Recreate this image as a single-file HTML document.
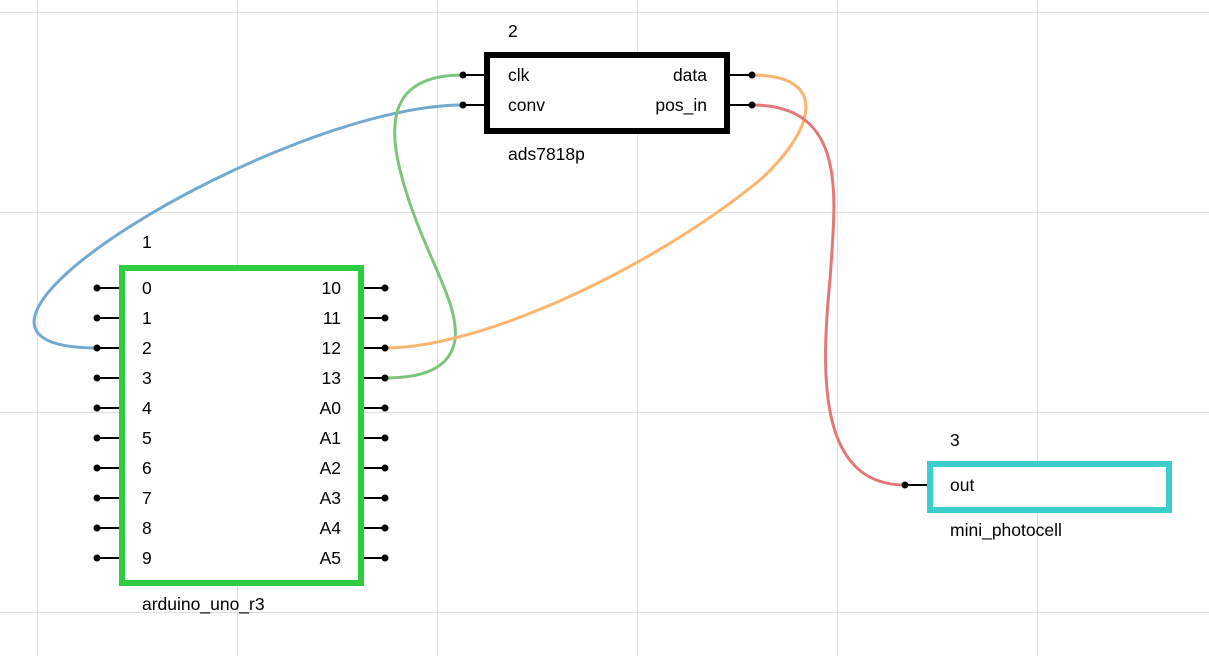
<!DOCTYPE html>
<html><head><meta charset="utf-8"><style>
html,body{margin:0;padding:0;background:#fff;}
svg{display:block;}
text{font-family:"Liberation Sans",Arial,sans-serif;font-size:17.5px;fill:#000;}
</style></head><body>
<svg width="1209" height="656" viewBox="0 0 1209 656" xmlns="http://www.w3.org/2000/svg">
<g stroke="#dedede" stroke-width="1">
<line x1="37.5" y1="0" x2="37.5" y2="656"/><line x1="237.5" y1="0" x2="237.5" y2="656"/>
<line x1="437.5" y1="0" x2="437.5" y2="656"/><line x1="637.5" y1="0" x2="637.5" y2="656"/>
<line x1="837.5" y1="0" x2="837.5" y2="656"/><line x1="1037.5" y1="0" x2="1037.5" y2="656"/>
<line x1="0" y1="12.5" x2="1209" y2="12.5"/><line x1="0" y1="212.5" x2="1209" y2="212.5"/>
<line x1="0" y1="412.5" x2="1209" y2="412.5"/><line x1="0" y1="612.5" x2="1209" y2="612.5"/>
</g>
<g stroke="#000" stroke-width="2">
<line x1="97" y1="288" x2="122" y2="288"/><line x1="97" y1="318" x2="122" y2="318"/>
<line x1="97" y1="348" x2="122" y2="348"/><line x1="97" y1="378" x2="122" y2="378"/>
<line x1="97" y1="408" x2="122" y2="408"/><line x1="97" y1="438" x2="122" y2="438"/>
<line x1="97" y1="468" x2="122" y2="468"/><line x1="97" y1="498" x2="122" y2="498"/>
<line x1="97" y1="528" x2="122" y2="528"/><line x1="97" y1="558" x2="122" y2="558"/>
<line x1="361" y1="288" x2="385" y2="288"/><line x1="361" y1="318" x2="385" y2="318"/>
<line x1="361" y1="348" x2="385" y2="348"/><line x1="361" y1="378" x2="385" y2="378"/>
<line x1="361" y1="408" x2="385" y2="408"/><line x1="361" y1="438" x2="385" y2="438"/>
<line x1="361" y1="468" x2="385" y2="468"/><line x1="361" y1="498" x2="385" y2="498"/>
<line x1="361" y1="528" x2="385" y2="528"/><line x1="361" y1="558" x2="385" y2="558"/>
<line x1="463" y1="75" x2="487" y2="75"/><line x1="463" y1="105" x2="487" y2="105"/>
<line x1="727" y1="75" x2="752" y2="75"/><line x1="727" y1="105" x2="752" y2="105"/>
<line x1="905" y1="485" x2="930" y2="485"/>
</g>
<rect x="122" y="268" width="239" height="315" fill="#fff" stroke="#2ecc40" stroke-width="6"/>
<rect x="487" y="55" width="240" height="76" fill="#fff" stroke="#000" stroke-width="6"/>
<rect x="930" y="464" width="239" height="46" fill="#fff" stroke="#3ccdcd" stroke-width="6"/>
<g fill="none" stroke-width="3" stroke-linecap="round">
<path d="M463,105 C280,105 -120,348 97,348" stroke="#72a9d0"/>
<path d="M463,75 C400,75 385,110 400,170 C420,250 460,300 455,340 C450,370 420,378 385,378" stroke="#7dc47d"/>
<path d="M752,75 C830,75 815,130 760,180 C650,270 480,348 385,348" stroke="#fdb46e"/>
<path d="M752,105 C850,105 835,200 830,280 C820,380 820,485 905,485" stroke="#e47777"/>
</g>
<g fill="#000">
<circle cx="97" cy="288" r="3.5"/><circle cx="97" cy="318" r="3.5"/><circle cx="97" cy="348" r="3.5"/>
<circle cx="97" cy="378" r="3.5"/><circle cx="97" cy="408" r="3.5"/><circle cx="97" cy="438" r="3.5"/>
<circle cx="97" cy="468" r="3.5"/><circle cx="97" cy="498" r="3.5"/><circle cx="97" cy="528" r="3.5"/>
<circle cx="97" cy="558" r="3.5"/>
<circle cx="385" cy="288" r="3.5"/><circle cx="385" cy="318" r="3.5"/><circle cx="385" cy="348" r="3.5"/>
<circle cx="385" cy="378" r="3.5"/><circle cx="385" cy="408" r="3.5"/><circle cx="385" cy="438" r="3.5"/>
<circle cx="385" cy="468" r="3.5"/><circle cx="385" cy="498" r="3.5"/><circle cx="385" cy="528" r="3.5"/>
<circle cx="385" cy="558" r="3.5"/>
<circle cx="463" cy="75" r="3.5"/><circle cx="463" cy="105" r="3.5"/>
<circle cx="752" cy="75" r="3.5"/><circle cx="752" cy="105" r="3.5"/>
<circle cx="905" cy="485" r="3.5"/>
</g>
<text x="142" y="248">1</text>
<text x="142" y="610">arduino_uno_r3</text>
<g>
<text x="142" y="294">0</text><text x="142" y="324">1</text><text x="142" y="354">2</text>
<text x="142" y="384">3</text><text x="142" y="414">4</text><text x="142" y="444">5</text>
<text x="142" y="474">6</text><text x="142" y="504">7</text><text x="142" y="534">8</text>
<text x="142" y="564">9</text>
</g>
<g text-anchor="end">
<text x="341" y="294">10</text><text x="341" y="324">11</text><text x="341" y="354">12</text>
<text x="341" y="384">13</text><text x="341" y="414">A0</text><text x="341" y="444">A1</text>
<text x="341" y="474">A2</text><text x="341" y="504">A3</text><text x="341" y="534">A4</text>
<text x="341" y="564">A5</text>
<text x="707" y="81">data</text><text x="707" y="111">pos_in</text>
</g>
<text x="508" y="37">2</text>
<text x="508" y="81">clk</text><text x="508" y="111">conv</text>
<text x="508" y="160">ads7818p</text>
<text x="950" y="446">3</text>
<text x="950" y="491">out</text>
<text x="950" y="536">mini_photocell</text>
</svg>
</body></html>
